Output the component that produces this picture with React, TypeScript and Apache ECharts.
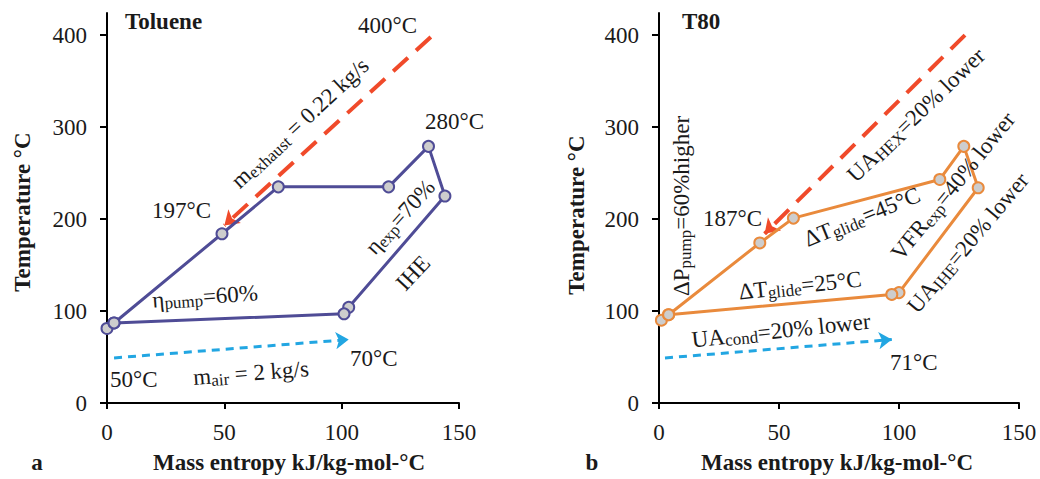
import React, { useEffect, useRef } from "react";
import * as echarts from "echarts";

const xTicks = [0, 50, 100, 150];
const yTicks = [0, 100, 200, 300, 400];

const tolueneS = [0, 3, 49, 73, 120, 137, 144, 103, 101, 3];
const tolueneT = [81, 87, 184, 235, 235, 279, 225, 104, 97, 87];
const t80S = [1, 4, 42, 56, 117, 127, 133, 100, 97, 4];
const t80T = [90, 96, 174, 201, 243, 279, 234, 120, 118, 96];

const exhaustLeft = [[138, 398], [50, 193]];
const exhaustRight = [[127.5, 400], [44, 184]];
const airLeft = [[3, 49], [103, 69]];
const airRight = [[2.5, 49], [97, 69]];

const FONT = "'Liberation Serif', 'Times New Roman', serif";
const TXT = "#1a1a1a";
const PURPLE = "#4f4c96";
const ORANGE = "#e98a3c";
const RED = "#f04a2a";
const BLUE = "#22a6e2";
const FS = 23;

const rich = {
  n: { fontSize: FS, fontFamily: FONT, fill: TXT, color: TXT, lineHeight: 26, verticalAlign: "middle" },
  s: { fontSize: 17, fontFamily: FONT, fill: TXT, color: TXT, lineHeight: 16, verticalAlign: "bottom" },
};

function txt(x: number, y: number, text: string, opts: any = {}) {
  return {
    type: "text",
    x,
    y,
    rotation: ((opts.rot || 0) * Math.PI) / 180,
    z: 100,
    style: {
      text,
      rich: opts.rich ? rich : undefined,
      fill: TXT,
      fontFamily: FONT,
      fontSize: opts.size || FS,
      fontWeight: opts.bold ? "bold" : "normal",
      align: opts.align || "center",
      verticalAlign: "middle",
    },
  };
}

function axesFor(grid: number) {
  const xMain = {
    type: "value",
    gridIndex: grid,
    min: 0,
    max: 150,
    interval: 50,
    splitLine: { show: false },
    axisLine: { show: true, onZero: false, lineStyle: { color: "#000", width: 2 } },
    axisTick: { show: true, inside: false, length: 6, lineStyle: { color: "#000", width: 2 }, customValues: xTicks },
    axisLabel: { show: true, margin: 18, fontSize: FS, fontFamily: FONT, color: TXT, customValues: xTicks },
  };
  const xIn = {
    ...xMain,
    axisLine: { show: false },
    axisLabel: { show: false },
    axisTick: { show: true, inside: true, length: 6, lineStyle: { color: "#000", width: 2 }, customValues: xTicks },
  };
  const yMain = {
    type: "value",
    gridIndex: grid,
    min: 0,
    max: 424,
    splitLine: { show: false },
    axisLine: { show: true, onZero: false, lineStyle: { color: "#000", width: 2 } },
    axisTick: { show: true, inside: false, length: 7, lineStyle: { color: "#000", width: 2 }, customValues: yTicks },
    axisLabel: { show: true, margin: 20, fontSize: FS, fontFamily: FONT, color: TXT, customValues: yTicks },
  };
  const yIn = {
    ...yMain,
    axisLine: { show: false },
    axisLabel: { show: false },
    axisTick: { show: true, inside: true, length: 7, lineStyle: { color: "#000", width: 2 }, customValues: yTicks },
  };
  return { xs: [xMain, xIn], ys: [yMain, yIn] };
}

function cycleSeries(s: number[], t: number[], color: string, axis: number) {
  return {
    type: "line",
    xAxisIndex: axis,
    yAxisIndex: axis,
    data: s.map((v, i) => [v, t[i]]),
    lineStyle: { color, width: 3 },
    symbol: "circle",
    symbolSize: 11,
    itemStyle: { color: "#cdcdcd", borderColor: color, borderWidth: 2 },
    z: 5,
  };
}

function arrowSeries(coords: number[][], color: string, width: number, dash: number[], size: number, axis: number) {
  return {
    type: "lines",
    coordinateSystem: "cartesian2d",
    xAxisIndex: axis,
    yAxisIndex: axis,
    symbol: ["none", "arrow"],
    symbolSize: size,
    lineStyle: { color, width, type: dash, opacity: 1 },
    data: [{ coords }],
    z: 4,
  };
}

export default function App() {
  const ref = useRef<HTMLDivElement>(null);
  useEffect(() => {
    if (!ref.current) return;
    const chart = echarts.init(ref.current, null, { renderer: "svg" });
    const a = axesFor(0);
    const b = axesFor(1);
    const option: any = {
      animation: false,
      backgroundColor: "#fff",
      grid: [
        { left: 107, top: 13, width: 352, height: 390 },
        { left: 659, top: 13, width: 360, height: 390 },
      ],
      xAxis: [a.xs[0], a.xs[1], b.xs[0], b.xs[1]],
      yAxis: [a.ys[0], a.ys[1], b.ys[0], b.ys[1]],
      series: [
        cycleSeries(tolueneS, tolueneT, PURPLE, 0),
        cycleSeries(t80S, t80T, ORANGE, 2),
        arrowSeries(exhaustLeft, RED, 4, [20, 11], 14, 0),
        arrowSeries(exhaustRight, RED, 4, [20, 11], 14, 2),
        arrowSeries(airLeft, BLUE, 3, [8, 6], 13, 0),
        arrowSeries(airRight, BLUE, 3, [8, 6], 13, 2),
      ],
      graphic: [
        // left panel
        txt(125, 21, "Toluene", { bold: true, align: "left" }),
        txt(358, 25, "400°C", { align: "left" }),
        txt(425, 121, "280°C", { align: "left" }),
        txt(152, 210, "197°C", { align: "left" }),
        txt(110, 379, "50°C", { align: "left" }),
        txt(350, 358, "70°C", { align: "left" }),
        txt(251, 373, "{n|m}{s|air}{n| = 2 kg/s}", { rich: true, rot: 4.4 }),
        txt(205, 296, "{n|η}{s|pump}{n|=60%}", { rich: true, rot: 4 }),
        txt(300, 123, "{n|m}{s|exhaust}{n| = 0.22 kg/s}", { rich: true, rot: 43 }),
        txt(400, 217, "{n|η}{s|exp}{n|=70%}", { rich: true, rot: 48 }),
        txt(413, 273, "IHE", { rot: 47 }),
        txt(37, 462, "a", { bold: true }),
        txt(289, 462, "Mass entropy kJ/kg-mol-°C", { bold: true }),
        txt(22, 212, "Temperature °C", { bold: true, rot: 90 }),
        // right panel
        txt(682, 21, "T80", { bold: true, align: "left" }),
        txt(703, 218, "187°C", { align: "left" }),
        txt(890, 362, "71°C", { align: "left" }),
        txt(681, 206, "{n|ΔP}{s|pump}{n|=60%higher}", { rich: true, rot: 90 }),
        txt(916, 115, "{n|UA}{s|HEX}{n|=20% lower}", { rich: true, rot: 44 }),
        txt(862, 217, "{n|ΔT}{s|glide}{n|=45°C}", { rich: true, rot: 22 }),
        txt(953, 186, "{n|VFR}{s|exp}{n|=40% lower}", { rich: true, rot: 51 }),
        txt(968, 243, "{n|UA}{s|IHE}{n|=20% lower}", { rich: true, rot: 50 }),
        txt(800, 285, "{n|ΔT}{s|glide}{n|=25°C}", { rich: true, rot: 6 }),
        txt(781, 330, "{n|UA}{s|cond}{n|=20% lower}", { rich: true, rot: 6 }),
        txt(592, 462, "b", { bold: true }),
        txt(837, 462, "Mass entropy kJ/kg-mol-°C", { bold: true }),
        txt(576, 215, "Temperature °C", { bold: true, rot: 90 }),
      ],
    };
    chart.setOption(option);
    return () => chart.dispose();
  }, []);
  return (
    <div
      ref={ref}
      style={{ position: "fixed", left: 0, top: 0, width: 1040, height: 479, background: "#fff" }}
    />
  );
}
